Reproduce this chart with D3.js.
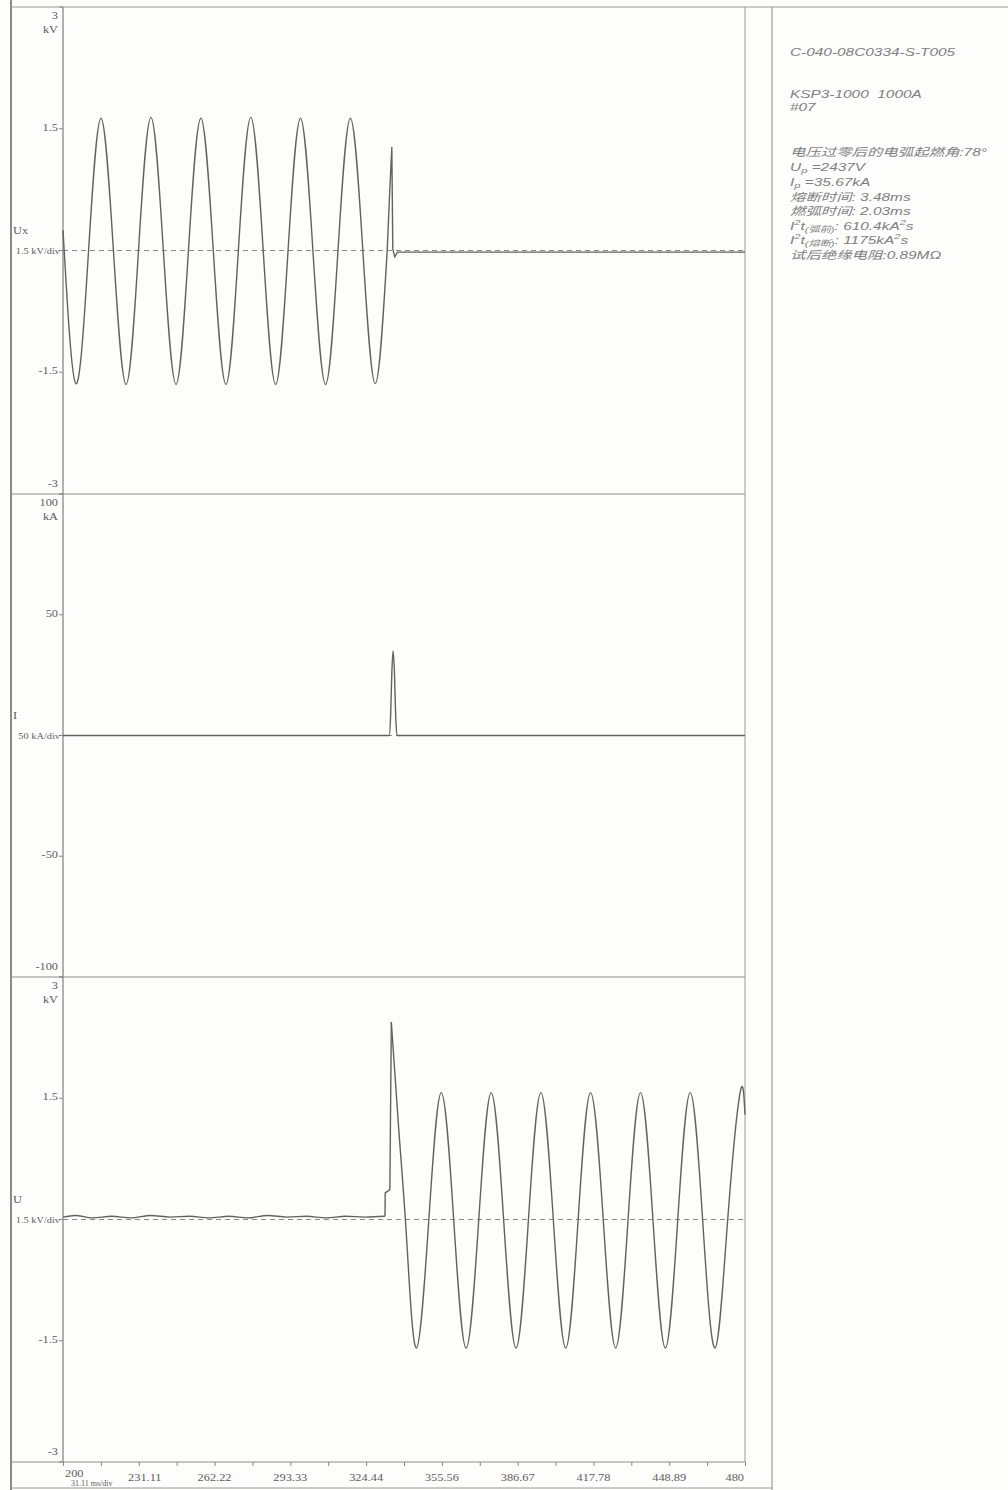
<!DOCTYPE html>
<html>
<head>
<meta charset="utf-8">
<script src="https://d3js.org/d3.v7.min.js"></script>
<style>
body { margin:0; background:#fdfdfc; }
svg text { fill:#5c5c5c; }
.ax { font-family:'Liberation Serif','DejaVu Serif',serif; font-size:9.5px; }
.info { font-family:'Liberation Sans','Noto Sans CJK SC',sans-serif; font-style:italic; font-size:11px; white-space:pre; }
svg text.info { fill:#808080; }
</style>
</head>
<body>
<svg id="svg"></svg>
<script>
// time axis (ms)
const xTicks = [200, 231.11, 262.22, 293.33, 324.44, 355.56, 386.67, 417.78, 448.89, 480];
const kvTicks = [3, 1.5, 0, -1.5, -3];
const kaTicks = [100, 50, 0, -50, -100];

// Ux, supply side voltage [ms, kV] read at peaks / zero crossings
const uxSine = [[200.0,0.25],[205.3,-1.64],[210.5,0],[215.6,1.63],[220.7,0],[225.9,-1.65],[231.0,0],
  [236.1,1.64],[241.2,0],[246.4,-1.65],[251.5,0],[256.6,1.63],[261.7,0],[266.9,-1.65],[272.0,0],
  [277.1,1.64],[282.2,0],[287.3,-1.65],[292.4,0],[297.5,1.63],[302.6,0],[307.8,-1.65],[312.9,0],
  [318.0,1.63],[323.1,0],[328.2,-1.64],[333.1,0]];
const uxArc = [[333.1,0],[334.1,0.7],[335.0,1.27],[335.4,0.02],[336.2,-0.08],[337.3,-0.02],[480,-0.02]];

// I, current [ms, kA]
const iPulse = [[200,0],[333.9,0],[334.5,8],[335.0,26],[335.5,35],[336.0,28],[336.6,8],[337.1,0],[480,0]];

// U, voltage across fuse [ms, kV]
const uFlat = [[200,0.03],[205,0.05],[212,0.02],[220,0.04],[228,0.02],[236,0.05],[244,0.03],[252,0.04],
  [260,0.02],[268,0.04],[276,0.02],[284,0.05],[292,0.03],[300,0.04],[308,0.02],[316,0.04],[324,0.03],[332.2,0.04]];
const uArc = [[332.2,0.04],[332.3,0.33],[334.2,0.37],[334.8,2.44]];
const uSine = [[334.8,2.44],[337.9,1.09],[341.1,-0.25],[345.1,-1.59],[350.2,0],[355.3,1.57],[360.4,0],
  [365.5,-1.59],[370.7,0],[375.8,1.57],[380.9,0],[386.0,-1.59],[391.1,0],[396.2,1.57],[401.3,0],
  [406.4,-1.59],[411.5,0],[416.6,1.57],[421.8,0],[426.9,-1.59],[432.0,0],[437.1,1.57],[442.2,0],
  [447.3,-1.59],[452.4,0],[457.5,1.57],[462.6,0],[467.7,-1.59],[472.9,0],[478.0,1.57],[480,1.3]];

// test notes, [text, 'sub'|'sup'|'']
const infoRows = [
  [53, [['C-040-08C0334-S-T005']]],
  [95, [['KSP3-1000  1000A']]],
  [108, [['#07']]],
  [153, [['电压过零后的电弧起燃角:78°']]],
  [168, [['U'],['p','sub'],[' =2437V']]],
  [183, [['I'],['p','sub'],[' =35.67kA']]],
  [198, [['熔断时间: 3.48ms']]],
  [212, [['燃弧时间: 2.03ms']]],
  [227, [['I'],['2','sup'],['t'],['(弧前)','sub'],[': 610.4kA'],['2','sup'],['s']]],
  [241, [['I'],['2','sup'],['t'],['(熔断)','sub'],[': 1175kA'],['2','sup'],['s']]],
  [256, [['试后绝缘电阻:0.89MΩ']]]
];

const W = 1008, H = 1490;
const frameX = 11, left = 63, right = 745, sep = 772;
const bounds = [7, 494, 977, 1462];
const lineCol = '#8e8e8e', traceCol = '#626262';

const svg = d3.select('#svg').attr('width', W).attr('height', H);

const x = d3.scaleLinear().domain([200, 480]).range([left, right]);
const yTop = d3.scaleLinear().domain([-3, 3]).range([bounds[1], bounds[0]]);
const yMid = d3.scaleLinear().domain([-100, 100]).range([bounds[2], bounds[1]]);
const yBot = d3.scaleLinear().domain([-3, 3]).range([bounds[3], bounds[2]]);

function txt(px, py, s, anchor, sx, size) {
  const t = svg.append('text').attr('class', 'ax')
    .attr('transform', `translate(${px},${py}) scale(${sx || 1.3},1)`)
    .attr('text-anchor', anchor || 'end')
    .attr('dominant-baseline', 'middle')
    .text(s);
  if (size) t.style('font-size', size + 'px');
  return t;
}
function hline(y, x1, x2, col, w) {
  svg.append('line').attr('x1', x1).attr('x2', x2).attr('y1', y).attr('y2', y)
    .attr('stroke', col || lineCol).attr('stroke-width', w || 1.2);
}
function vline(xx, y1, y2, col, w) {
  svg.append('line').attr('x1', xx).attr('x2', xx).attr('y1', y1).attr('y2', y2)
    .attr('stroke', col || lineCol).attr('stroke-width', w || 1.2);
}

// frame
vline(frameX, 0, H, '#8a8a8a', 2);
vline(sep, bounds[0], H, '#9a9a9a', 1.2);
hline(bounds[0], frameX, W, '#999', 1.2);
bounds.slice(1).forEach(b => hline(b, frameX + 1, right));
hline(1488, frameX, sep, '#999', 1.2);
vline(left, bounds[0], bounds[3], '#888', 1.3);
vline(right, bounds[0], bounds[3], '#999', 1);

// zero dashes
[yTop, yMid, yBot].forEach(y => {
  svg.append('line').attr('x1', left).attr('x2', right).attr('y1', y(0)).attr('y2', y(0))
    .attr('stroke', '#8a8a8a').attr('stroke-width', 1).attr('stroke-dasharray', '5,4');
});

// y axes
function yAxis(y, ticks, unit, chan, divLab) {
  const b0 = y.range()[1], b1 = y.range()[0];
  ticks.forEach((t, i) => {
    svg.append('line').attr('x1', left - 4).attr('x2', left).attr('y1', y(t)).attr('y2', y(t))
      .attr('stroke', '#888').attr('stroke-width', 1);
    if (t === 0) return;
    let py = y(t);
    if (i === 0) py = b0 + 10;
    if (i === ticks.length - 1) py = b1 - 9;
    txt(58, py, String(t));
  });
  txt(58, b0 + 24, unit);
  txt(13, y(0) - 19, chan, 'start');
  txt(60, y(0) + 1, divLab, 'end', 1.15, 9);
}
yAxis(yTop, kvTicks, 'kV', 'Ux', '1.5 kV/div');
yAxis(yMid, kaTicks, 'kA', 'I', '50 kA/div');
yAxis(yBot, kvTicks, 'kV', 'U', '1.5 kV/div');

// x axis
const halfTicks = xTicks.slice(1).map((t, i) => (t + xTicks[i]) / 2);
svg.append('g').attr('transform', `translate(0,${bounds[3]})`)
  .call(d3.axisBottom(x).tickValues(xTicks.concat(halfTicks)).tickSize(4).tickFormat(''))
  .call(g => g.select('.domain').remove())
  .call(g => g.selectAll('line').attr('stroke', '#888'));
xTicks.forEach((t, i) => {
  if (i === 0) {
    txt(x(t) + 2, 1475, '200', 'start');
    txt(x(t) + 8, 1484, '31.11 ms/div', 'start', 1, 8);
    return;
  }
  if (i === xTicks.length - 1) { txt(x(t) - 1, 1479, '480', 'end'); return; }
  txt(x(t) + (i === 1 ? 6 : 0), 1479, d3.format('.2f')(t), 'middle');
});

// traces
function trace(data, y, curve) {
  svg.append('path').datum(data)
    .attr('d', d3.line().x(d => x(d[0])).y(d => y(d[1])).curve(curve))
    .attr('fill', 'none').attr('stroke', traceCol).attr('stroke-width', 1.4)
    .attr('stroke-linejoin', 'round');
}
trace(uxSine, yTop, d3.curveNatural);
trace(uxArc, yTop, d3.curveLinear);
trace(iPulse, yMid, d3.curveMonotoneX);
trace(uFlat, yBot, d3.curveMonotoneX);
trace(uArc, yBot, d3.curveLinear);
trace(uSine, yBot, d3.curveNatural);

// notes panel
infoRows.forEach(([py, parts]) => {
  const t = svg.append('text').attr('class', 'info')
    .attr('transform', `translate(790,${py}) scale(1.4,1)`)
    .attr('dominant-baseline', 'middle');
  let off = 0;
  parts.forEach(([s, k]) => {
    const target = k === 'sub' ? 3 : k === 'sup' ? -4 : 0;
    const sp = t.append('tspan').attr('dy', target - off).text(s);
    if (k) sp.attr('font-size', '8px');
    off = target;
  });
});
</script>
</body>
</html>
